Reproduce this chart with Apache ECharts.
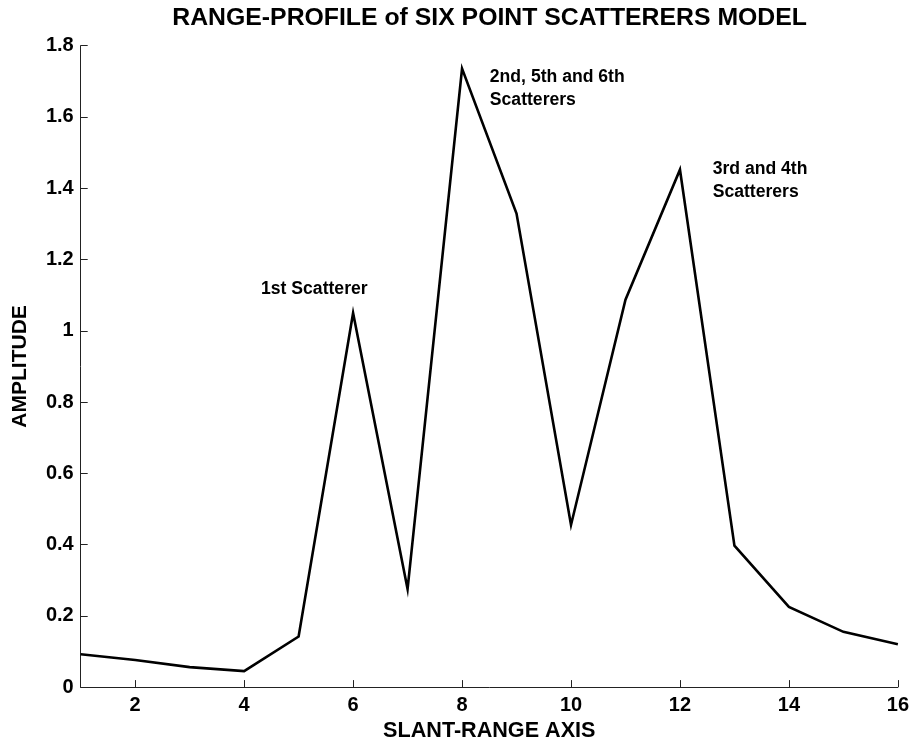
<!DOCTYPE html>
<html>
<head>
<meta charset="utf-8">
<title>Range profile</title>
<script src="https://cdn.jsdelivr.net/npm/echarts@6/dist/echarts.min.js"></script>
<style>
  html, body { margin: 0; padding: 0; background: #fff; }
  #chart { width: 912px; height: 747px; }
</style>
</head>
<body>
<div id="chart"></div>
<script>
// Slant-range cells and the amplitude of the range profile in each cell
const rangeCells = [1, 2, 3, 4, 5, 6, 7, 8, 9, 10, 11, 12, 13, 14, 15, 16];
const amplitude = [0.092, 0.076, 0.056, 0.045, 0.142, 1.050, 0.275, 1.736, 1.329, 0.455, 1.087, 1.452, 0.397, 0.225, 0.155, 0.120];

// Tick marks along the slant-range axis
const xTickValues = [2, 4, 6, 8, 10, 12, 14, 16];

// Text notes that name the scatterers behind each peak (data coordinates of the text's left edge)
const noteTexts = ['1st Scatterer', '2nd, 5th and 6th\nScatterers', '3rd and 4th\nScatterers'];
const noteX = [4.31, 8.51, 12.60];
const noteY = [1.117, 1.679, 1.420];

const FONT = '"Liberation Sans", Arial, Helvetica, sans-serif';

const chart = echarts.init(document.getElementById('chart'), null, { renderer: 'canvas' });

const notes = noteTexts.map((t, i) => ({
  coord: [noteX[i], noteY[i]],
  value: t,
  symbol: 'circle',
  symbolSize: 0,
  label: {
    show: true,
    formatter: t,
    position: [0, 0],
    align: 'left',
    verticalAlign: 'middle',
    color: '#000',
    fontFamily: FONT,
    fontWeight: 'bold',
    fontSize: 17.6,
    lineHeight: 23
  }
}));

chart.setOption({
  animation: false,
  backgroundColor: '#ffffff',
  title: {
    text: 'RANGE-PROFILE of SIX POINT SCATTERERS MODEL',
    left: 489.6,
    textAlign: 'center',
    top: 6,
    padding: 0,
    textStyle: {
      color: '#000',
      fontFamily: FONT,
      fontWeight: 'bold',
      fontSize: 24.8
    }
  },
  grid: {
    left: 80.7,
    right: 13.5,
    top: 45.7,
    bottom: 55,
    containLabel: false
  },
  xAxis: {
    type: 'value',
    min: 1,
    max: 16,
    name: 'SLANT-RANGE AXIS',
    nameLocation: 'middle',
    nameGap: 32,
    nameTextStyle: {
      color: '#000',
      fontFamily: FONT,
      fontWeight: 'bold',
      fontSize: 21.6
    },
    axisLine: { show: true, onZero: false, lineStyle: { color: '#222', width: 1 } },
    axisTick: {
      show: true,
      inside: true,
      length: 7,
      customValues: xTickValues,
      lineStyle: { color: '#222', width: 1 }
    },
    axisLabel: {
      show: true,
      customValues: xTickValues,
      margin: 8,
      color: '#000',
      fontFamily: FONT,
      fontWeight: 'bold',
      fontSize: 20
    },
    splitLine: { show: false }
  },
  yAxis: {
    type: 'value',
    min: 0,
    max: 1.8,
    interval: 0.2,
    name: 'AMPLITUDE',
    nameLocation: 'middle',
    nameGap: 50,
    nameTextStyle: {
      color: '#000',
      fontFamily: FONT,
      fontWeight: 'bold',
      fontSize: 21
    },
    axisLine: { show: true, onZero: false, lineStyle: { color: '#222', width: 1 } },
    axisTick: {
      show: true,
      inside: true,
      length: 7,
      lineStyle: { color: '#222', width: 1 }
    },
    axisLabel: {
      show: true,
      margin: 7,
      color: '#000',
      fontFamily: FONT,
      fontWeight: 'bold',
      fontSize: 20,
      formatter: v => String(Math.round(v * 10) / 10)
    },
    splitLine: { show: false }
  },
  series: [{
    type: 'line',
    data: rangeCells.map((x, i) => [x, amplitude[i]]),
    symbol: 'none',
    lineStyle: { color: '#000', width: 2.6, join: 'miter' },
    markPoint: {
      symbolSize: 0,
      silent: true,
      animation: false,
      data: notes
    }
  }]
});
</script>
</body>
</html>
